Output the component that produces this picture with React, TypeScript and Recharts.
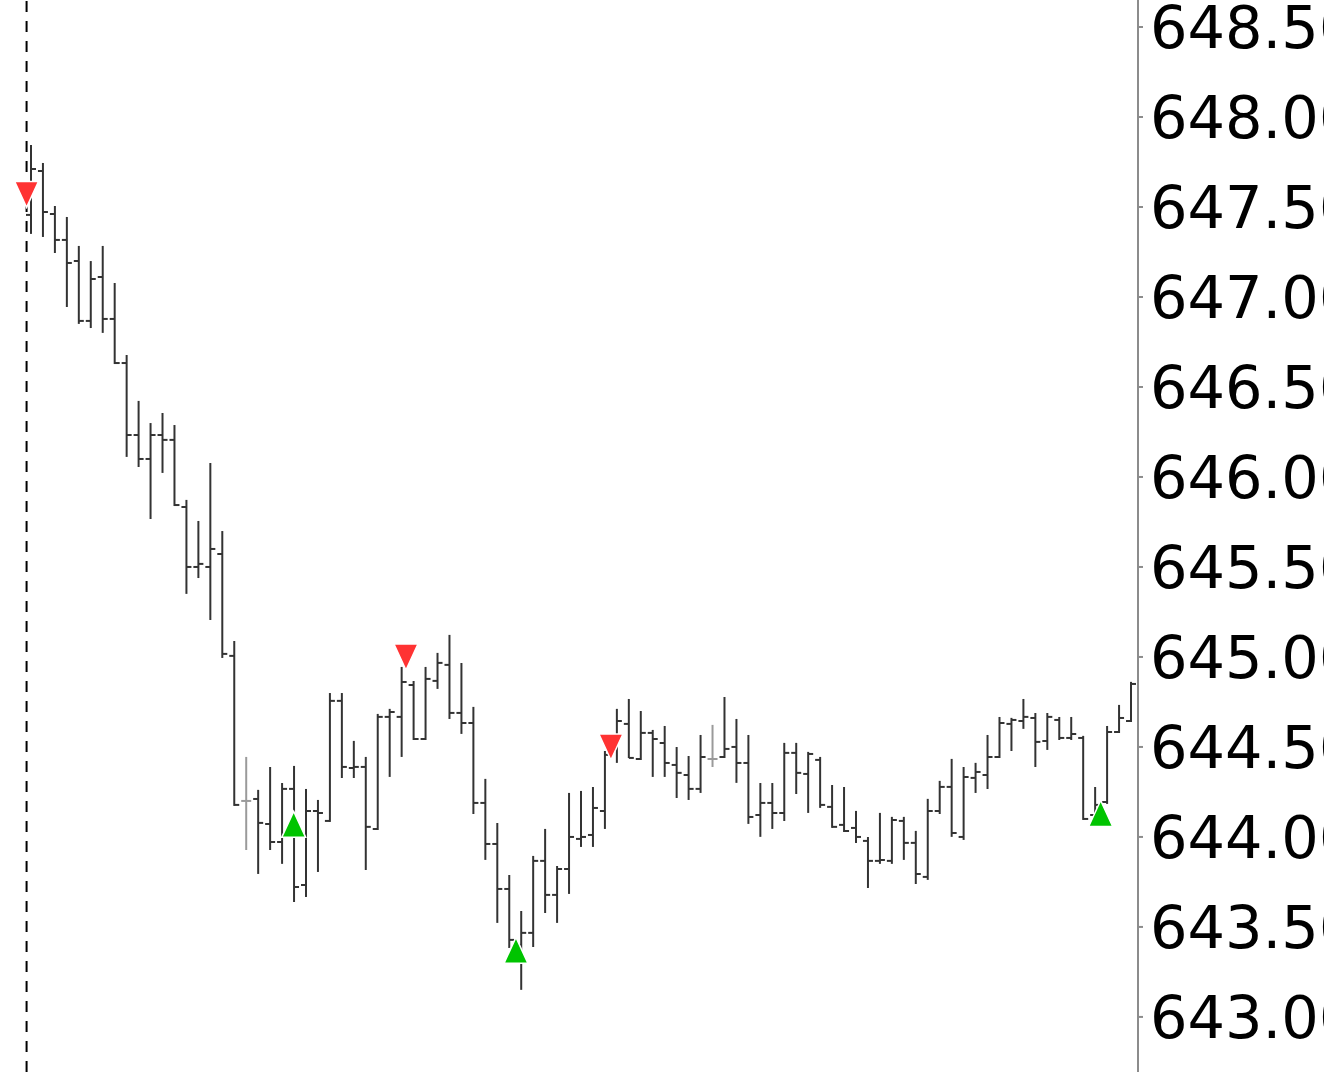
import React from 'react';
import { ComposedChart, Bar, Scatter, XAxis, YAxis, ReferenceLine } from 'recharts';

// OHLC values, one entry per bar (left to right)
const opens = [
  647.456, 647.7, 647.461, 647.317, 647.2, 646.867, 647.111, 646.878, 646.633, 646.233,
  646.1, 646.233, 646.206, 645.833, 645.5, 645.5, 645.572, 645.006, 644.2, 644.211,
  644.072, 643.972, 644.267, 643.733, 644.144, 644.089, 644.756, 644.383, 644.389, 644.044,
  644.667, 644.667, 644.844, 644.544, 644.867, 644.956, 644.689, 644.633, 644.189, 643.961,
  643.711, 643.4, 643.467, 643.867, 643.678, 643.822, 643.989, 644.011, 644.144, 644.511,
  644.628, 644.433, 644.578, 644.522, 644.4, 644.344, 644.267, 644.433, 644.444, 644.5,
  644.411, 644.122, 644.189, 644.133, 644.467, 644.35, 644.428, 644.167, 644.067, 644.05,
  643.978, 643.867, 643.867, 644.089, 643.967, 643.778, 644.144, 644.278, 644.0, 644.328,
  644.344, 644.444, 644.628, 644.644, 644.661, 644.533, 644.65, 644.55, 644.55, 644.122,
  644.194, 644.583, 644.644,
];
const highs = [
  647.839, 647.739, 647.5, 647.439, 647.278, 647.194, 647.278, 647.072, 646.672, 646.417,
  646.294, 646.35, 646.283, 645.867, 645.75, 646.072, 645.694, 645.083, 644.439, 644.256,
  644.383, 644.294, 644.389, 644.261, 644.2, 644.794, 644.794, 644.528, 644.439, 644.678,
  644.706, 644.939, 644.861, 644.939, 645.017, 645.117, 644.961, 644.717, 644.317, 644.072,
  643.783, 643.583, 643.889, 644.039, 643.833, 644.239, 644.25, 644.272, 644.472, 644.706,
  644.761, 644.694, 644.589, 644.611, 644.494, 644.444, 644.561, 644.617, 644.772, 644.65,
  644.561, 644.294, 644.294, 644.517, 644.517, 644.467, 644.439, 644.283, 644.272, 644.139,
  643.994, 644.128, 644.106, 644.106, 644.028, 644.206, 644.306, 644.428, 644.383, 644.406,
  644.561, 644.661, 644.656, 644.761, 644.683, 644.683, 644.661, 644.661, 644.556, 644.272,
  644.611, 644.728, 644.856,
];
const lows = [
  647.356, 647.339, 647.25, 646.95, 646.856, 646.833, 646.806, 646.633, 646.117, 646.061,
  645.772, 646.028, 645.844, 645.356, 645.444, 645.211, 645.0, 644.178, 643.933, 643.8,
  643.933, 643.856, 643.644, 643.672, 643.811, 644.089, 644.333, 644.333, 643.822, 644.044,
  644.339, 644.45, 644.544, 644.544, 644.828, 644.661, 644.578, 644.133, 643.878, 643.528,
  643.389, 643.156, 643.394, 643.583, 643.528, 643.689, 643.95, 643.95, 644.05, 644.417,
  644.444, 644.433, 644.339, 644.339, 644.222, 644.211, 644.25, 644.394, 644.444, 644.306,
  644.078, 644.006, 644.05, 644.094, 644.244, 644.139, 644.167, 644.056, 644.033, 643.972,
  643.722, 643.856, 643.856, 643.878, 643.744, 643.767, 644.133, 644.006, 643.989, 644.25,
  644.272, 644.444, 644.483, 644.606, 644.394, 644.489, 644.544, 644.544, 644.1, 644.106,
  644.189, 644.583, 644.644,
];
const closes = [
  647.711, 647.472, 647.317, 647.189, 646.867, 647.1, 646.878, 646.633, 646.233, 646.1,
  646.233, 646.206, 645.844, 645.5, 645.517, 645.6, 645.017, 644.178, 644.2, 644.078,
  643.972, 644.267, 643.722, 644.144, 644.133, 644.756, 644.389, 644.389, 644.056, 644.667,
  644.694, 644.861, 644.544, 644.878, 644.967, 644.689, 644.633, 644.189, 643.961, 643.711,
  643.428, 643.467, 643.867, 643.678, 643.822, 644.0, 644.0, 644.161, 644.456, 644.644,
  644.439, 644.578, 644.544, 644.411, 644.356, 644.267, 644.444, 644.433, 644.489, 644.411,
  644.111, 644.189, 644.133, 644.467, 644.356, 644.461, 644.178, 644.056, 644.033, 644.0,
  643.867, 643.872, 644.094, 643.967, 643.794, 644.144, 644.278, 644.022, 644.333, 644.361,
  644.444, 644.633, 644.65, 644.667, 644.528, 644.667, 644.55, 644.572, 644.1, 644.178,
  644.583, 644.661, 644.85,
];

// signal markers (position in bars, price)
const sellSignalT = [-0.37, 31.36, 48.5];
const sellSignalPrice = [647.57, 645.0, 644.5];
const buySignalT = [21.97, 40.56, 89.46];
const buySignalPrice = [644.07, 643.37, 644.13];

const sessionStartT = -0.37;
const priceTicks = [643, 643.5, 644, 644.5, 645, 645.5, 646, 646.5, 647, 647.5, 648, 648.5];

const bars = opens.map((open, i) => ({
  t: i,
  open,
  high: highs[i],
  low: lows[i],
  close: closes[i],
}));
const sells = sellSignalT.map((t, i) => ({ t, price: sellSignalPrice[i] }));
const buys = buySignalT.map((t, i) => ({ t, price: buySignalPrice[i] }));

const OhlcShape = (props: any) => {
  const { x, y, width, height, payload } = props;
  const cx = x + width / 2;
  const top = Math.min(y, y + height);
  const bottom = Math.max(y, y + height);
  const span = payload.high - payload.low;
  const toPx = (v: number) => (span === 0 ? top : top + ((payload.high - v) / span) * (bottom - top));
  const colour = payload.open === payload.close ? '#9a9a9a' : '#333333';
  const yo = toPx(payload.open);
  const yc = toPx(payload.close);
  return (
    <g stroke={colour} strokeWidth={2}>
      <line x1={cx} x2={cx} y1={top - 1} y2={bottom + 1} />
      <line x1={cx - 5} x2={cx} y1={yo} y2={yo} />
      <line x1={cx} x2={cx + 5} y1={yc} y2={yc} />
    </g>
  );
};

const DownTriangle = (props: any) => {
  const { cx, cy } = props;
  return (
    <path
      d={`M${cx - 12},${cy - 13}L${cx + 12},${cy - 13}L${cx},${cy + 13}Z`}
      fill="#ff3333"
      stroke="#ffffff"
      strokeWidth={1.5}
    />
  );
};

const UpTriangle = (props: any) => {
  const { cx, cy } = props;
  return (
    <path
      d={`M${cx - 12},${cy + 13}L${cx + 12},${cy + 13}L${cx},${cy - 13}Z`}
      fill="#00c400"
      stroke="#ffffff"
      strokeWidth={1.5}
    />
  );
};

export default function App() {
  return (
    <div style={{ position: 'absolute', left: 0, top: 0, background: '#fff' }}>
      <ComposedChart
        width={1324}
        height={1072}
        data={bars}
        margin={{ top: 0, right: 0, bottom: 0, left: 0 }}
      >
        <XAxis
          dataKey="t"
          type="number"
          domain={[-2.593, 92.583]}
          allowDataOverflow
          hide
        />
        <YAxis
          orientation="right"
          width={186}
          type="number"
          domain={[642.694, 648.65]}
          allowDataOverflow
          ticks={priceTicks}
          interval={0}
          tickFormatter={(v: number) => v.toFixed(2)}
          tick={{ fontSize: 59, fill: '#000', fontFamily: 'DejaVu Sans' }}
          axisLine={{ stroke: '#8c8c8c', strokeWidth: 2 }}
          tickLine={{ stroke: '#8c8c8c', strokeWidth: 2 }}
          tickSize={5}
          tickMargin={7}
        />
        <ReferenceLine
          x={sessionStartT}
          stroke="#000"
          strokeWidth={2}
          strokeDasharray="11 9"
          ifOverflow="extendDomain"
        />
        <Bar
          dataKey={(d: any) => [d.low, d.high]}
          barSize={4}
          shape={OhlcShape}
          isAnimationActive={false}
        />
        <Scatter data={sells} dataKey="price" shape={DownTriangle} isAnimationActive={false} />
        <Scatter data={buys} dataKey="price" shape={UpTriangle} isAnimationActive={false} />
      </ComposedChart>
    </div>
  );
}
